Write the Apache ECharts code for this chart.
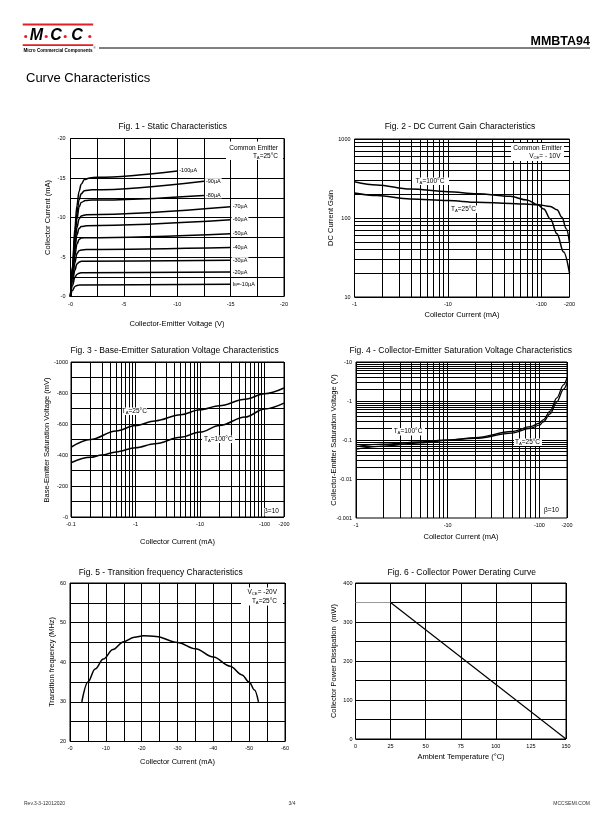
<!DOCTYPE html>
<html><head><meta charset="utf-8">
<script src="https://cdn.jsdelivr.net/npm/echarts@6/dist/echarts.min.js"></script>
<style>html,body{margin:0;padding:0;background:#fff}#c{width:612px;height:825px}</style>
</head><body><div id="c"></div>
<script>
// ================= DATA (magnitudes; axis labels carry the minus sign) =================
// Fig.1 Static characteristics: [|VCE| (V), |IC| (mA)]
const fig1CurveLabels = ['-100µA','-90µA','-80µA','-70µA','-60µA','-50µA','-40µA','-30µA','-20µA','IB=-10µA'];
const fig1Ib100 = [[0,0],[0.2,4],[0.4,8.5],[0.6,11.5],[0.8,13.3],[1.0,14.2],[1.3,14.8],[1.8,15.0],[2.5,15.1],[10,15.9]];
const fig1Ib90  = [[0,0],[0.2,3.8],[0.4,7.8],[0.6,10.5],[0.8,12.2],[1.0,13.0],[1.3,13.4],[2.0,13.5],[12.5,14.6]];
const fig1Ib80  = [[0,0],[0.2,3.6],[0.4,7.2],[0.6,9.8],[0.8,11.3],[1.0,11.9],[1.4,12.15],[2.0,12.2],[12.5,12.8]];
const fig1Ib70  = [[0,0],[0.2,3.3],[0.4,6.5],[0.6,8.7],[0.8,9.8],[1.0,10.2],[1.5,10.35],[15,11.35]];
const fig1Ib60  = [[0,0],[0.2,3.0],[0.4,5.8],[0.6,7.8],[0.8,8.6],[1.0,8.85],[1.5,8.95],[15,9.7]];
const fig1Ib50  = [[0,0],[0.2,2.7],[0.4,5.1],[0.6,6.6],[0.8,7.2],[1.0,7.4],[1.5,7.45],[15,7.95]];
const fig1Ib40  = [[0,0],[0.2,2.3],[0.4,4.2],[0.6,5.4],[0.8,5.8],[1.0,5.9],[1.5,5.95],[15,6.2]];
const fig1Ib30  = [[0,0],[0.2,1.9],[0.4,3.3],[0.6,4.1],[0.8,4.35],[1.0,4.45],[15,4.6]];
const fig1Ib20  = [[0,0],[0.2,1.4],[0.4,2.4],[0.6,2.8],[0.8,2.95],[1.0,3.0],[15,3.1]];
const fig1Ib10  = [[0,0],[0.2,0.8],[0.4,1.25],[0.6,1.4],[0.8,1.45],[15,1.55]];

// Fig.2 DC current gain: [|IC| (mA), hFE]
const fig2Ta100 = [[1,288],[1.73,262],[3.95,233],[10,215],[20.5,203],[46.5,188],[70,169],[92,147],[106,130],[125,97],[147,63],[173,37],[200,20]];
const fig2Ta25  = [[1,207],[1.73,192],[3.95,174],[10,166],[20.5,158],[46.5,153],[92,147],[125,140],[147,127],[166,102],[185,73],[200,49]];

// Fig.3 Base-emitter saturation voltage: [|IC| (mA), |VBE(sat)| (mV)]
const fig3Ta25  = [[0.1,450],[0.2,500],[0.5,555],[1,590],[2,620],[5,660],[10,692],[20,718],[50,760],[100,795],[200,832]];
const fig3Ta100 = [[0.1,350],[0.2,385],[0.3,400],[0.5,420],[1,447],[2,473],[5,515],[10,548],[20,590],[50,645],[100,697],[200,735]];

// Fig.4 Collector-emitter saturation voltage: [|IC| (mA), |VCE(sat)| (V)]
const fig4Ta100 = [[1,0.068],[2,0.078],[5,0.09],[10,0.1],[20,0.11],[50,0.15],[80,0.2],[100,0.24],[110,0.29],[131,0.47],[155,0.95],[183,2.0],[200,2.9]];
const fig4Ta25  = [[1,0.058],[2,0.07],[5,0.085],[10,0.098],[20,0.115],[50,0.165],[80,0.22],[100,0.27],[110,0.33],[131,0.55],[155,1.2],[183,2.6],[200,3.9]];

// Fig.5 Transition frequency: [|IC| (mA), fT (MHz)]
const fig5Ft = [[3.3,30],[5,35],[7,38.3],[9.3,40.8],[12,43.2],[15,45.2],[18,46.3],[20.5,46.7],[24,46.5],[30,45],[35,43.4],[40,41.3],[44.7,39],[48,36.8],[50,35],[51.5,33],[52.6,30]];

// Fig.6 Power derating: [TA (°C), PD (mW)]
const fig6Flat  = [[0,350],[25,350]];
const fig6Slope = [[25,350],[150,0]];

// ================= RENDER =================
const FONT = '"Liberation Sans", Arial, sans-serif';
const neg = v => '-' + (+(+v).toPrecision(4));
const pos = v => String(+(+v).toPrecision(4));

function decadeValues(min, max){
  const out=[];
  for(let e=Math.floor(Math.log10(min)+1e-9); Math.pow(10,e)<=max*1.0001; e++){
    for(let m=1;m<=9;m++){
      const v=+(m*Math.pow(10,e)).toPrecision(6);
      if(v>=min*0.9999 && v<=max*1.0001) out.push(v);
    }
  }
  return out;
}

const grids = [
  {left:70.5, top:138.5, width:213.5, height:158},
  {left:354.5, top:139, width:215, height:158},
  {left:71, top:362, width:213, height:155},
  {left:356, top:362, width:211, height:156},
  {left:70, top:583, width:215, height:158.5},
  {left:355.5, top:583, width:210.5, height:156}
].map(g=>Object.assign({show:true, borderColor:'#000', borderWidth:1, containLabel:false}, g));

const lbl = (fmt, margin) => ({fontSize:5.5, color:'#000', fontFamily:FONT, margin:margin||4, formatter:fmt});
const split = {show:true, lineStyle:{color:'#000', width:1}};
function linAxis(gi, min, max, interval, fmt, margin){
  return {type:'value', gridIndex:gi, min, max, interval, axisLine:{show:false}, axisTick:{show:false},
    splitLine:split, axisLabel:lbl(fmt, margin)};
}
function logAxis(gi, min, max, fmt, margin){
  return {type:'log', logBase:10, gridIndex:gi, min, max, axisLine:{show:false}, axisTick:{show:false},
    splitLine:{show:false}, minorSplitLine:{show:false}, axisLabel:lbl(fmt, margin)};
}
const every = (step, f) => v => (Math.abs(v/step - Math.round(v/step))<1e-6 ? f(v) : '');

const xAxis = [
  linAxis(0, 0, 20, 2.5, every(5, neg), 5),
  logAxis(1, 1, 200, neg, 4),
  logAxis(2, 0.1, 200, neg, 4),
  logAxis(3, 1, 200, neg, 4),
  linAxis(4, 0, 60, 5, every(10, neg), 4),
  linAxis(5, 0, 150, 25, pos, 4)
];
const yAxis = [
  linAxis(0, 0, 20, 2.5, every(5, neg), 5),
  logAxis(1, 10, 1000, pos, 4),
  linAxis(2, 0, 1000, 100, every(200, neg), 3),
  logAxis(3, 0.001, 10, neg, 4),
  linAxis(4, 20, 60, 5, every(10, pos), 4),
  linAxis(5, 0, 400, 50, every(100, pos), 3)
];

function gridLines(i, xs, ys){
  return {type:'line', xAxisIndex:i, yAxisIndex:i, data:[], silent:true, z:1,
    markLine:{silent:true, symbol:['none','none'], label:{show:false}, animation:false,
      lineStyle:{color:'#000', width:1, type:'solid'}, emphasis:{disabled:true},
      data:[...xs.map(v=>({xAxis:v})), ...ys.map(v=>({yAxis:v}))]}};
}
function curve(i, data, w, color){
  return {type:'line', xAxisIndex:i, yAxisIndex:i, data, showSymbol:false, symbol:'none', smooth:0.35,
    smoothMonotone:'x', silent:true, z:3, lineStyle:{color:color||'#000', width:w||1.5}};
}

const series = [];
series.push(gridLines(1, decadeValues(1,200), decadeValues(10,1000)));
series.push(gridLines(2, decadeValues(0.1,200), []));
series.push(gridLines(3, decadeValues(1,200), decadeValues(0.001,10)));

const fig1Curves = [fig1Ib100, fig1Ib90, fig1Ib80, fig1Ib70, fig1Ib60, fig1Ib50, fig1Ib40, fig1Ib30, fig1Ib20, fig1Ib10];
fig1Curves.forEach((d,k)=>{
  const s = curve(0, d, 1.5);
  const txt = fig1CurveLabels[k];
  s.endLabel = {show:true, distance:1, fontSize:5.5, fontFamily:FONT, color:'#000', backgroundColor:'#fff', padding:[0,1],
    formatter: () => txt.indexOf('IB')===0 ? '{n|I}{s|B}{n|' + txt.slice(2) + '}' : txt,
    rich:{n:{fontSize:5.5, fontFamily:FONT, color:'#000'}, s:{fontSize:4, fontFamily:FONT, color:'#000', verticalAlign:'bottom', lineHeight:4}}};
  series.push(s);
});
series.push(curve(1, fig2Ta100));
series.push(curve(1, fig2Ta25));
series.push(curve(2, fig3Ta25));
series.push(curve(2, fig3Ta100));
series.push(curve(3, fig4Ta100, 1.3));
series.push(curve(3, fig4Ta25, 1.3));
series.push(curve(4, fig5Ft));
series.push(curve(5, fig6Flat, 1.2, '#999'));
series.push(curve(5, fig6Slope, 1.2));

// ---------- texts & decorations ----------
const G = [];
function T(x,y,text,o){
  o=o||{};
  const st = {text, fill:o.color||'#000', fontSize:o.size||7, fontFamily:FONT,
    fontWeight:o.bold?'bold':'normal', fontStyle:o.italic?'italic':'normal',
    align:o.align||'center', textAlign:o.align||'center', verticalAlign:'middle', textVerticalAlign:'middle'};
  if(o.rich) st.rich=o.rich;
  G.push({type:'text', x, y, rotation:o.rot||0, z:100, silent:true, style:st});
}
function R(x,y,w,h,fill){ G.push({type:'rect', shape:{x,y,width:w,height:h}, style:{fill:fill||'#fff'}, z:95, silent:true}); }
function L(x1,y1,x2,y2,c,w){ G.push({type:'line', shape:{x1,y1,x2,y2}, style:{stroke:c||'#000', lineWidth:w||1}, z:100, silent:true}); }
function C(cx,cy,r,fill){ G.push({type:'circle', shape:{cx,cy,r}, style:{fill}, z:100, silent:true}); }
const sub = sz => ({n:{fontSize:sz, fontFamily:FONT, color:'#000'}, s:{fontSize:sz*0.65, fontFamily:FONT, color:'#000', verticalAlign:'bottom', lineHeight:sz*0.65}});

// header
const RED = '#e21f26';
R(22.7, 23.5, 70.5, 2, RED);
R(22.7, 44.2, 70.5, 1.8, RED);
[25.7, 46.2, 65.2, 89.8].forEach(x=>C(x, 36.5, 1.6, RED));
T(36.5, 35.8, 'M', {size:16, bold:true, italic:true});
T(56, 35.8, 'C', {size:16, bold:true, italic:true});
T(77, 35.8, 'C', {size:16, bold:true, italic:true});
T(58, 50.7, 'Micro Commercial Components', {size:4.6, bold:true});
T(94.5, 48.2, '®', {size:3});
L(99, 48, 590, 48, '#000', 1);
T(590, 41.7, 'MMBTA94', {size:12.5, bold:true, align:'right'});
T(26, 78.3, 'Curve Characteristics', {size:13, align:'left'});
// footer
T(24, 803.5, 'Rev.3-3-12012020', {size:5, align:'left', color:'#333'});
T(292, 803.5, '3/4', {size:5, color:'#333'});
T(590, 803.5, 'MCCSEMI.COM', {size:5, align:'right', color:'#333'});

// figure titles
T(172.7, 126.3, 'Fig. 1 - Static Characteristics', {size:8.5});
T(460, 126.3, 'Fig. 2 - DC Current Gain Characteristics', {size:8.5});
T(174.7, 351, 'Fig. 3 - Base-Emitter Saturation Voltage Characteristics', {size:8.5});
T(460.7, 351, 'Fig. 4 - Collector-Emitter Saturation Voltage Characteristics', {size:8.5});
T(160.7, 572.3, 'Fig. 5 - Transition frequency Characteristics', {size:8.5});
T(461.7, 572.3, 'Fig. 6 - Collector Power Derating Curve', {size:8.5});

// axis titles
const R90 = Math.PI/2;
T(177, 324, 'Collector-Emitter Voltage (V)', {size:7.5});
T(48.3, 217.5, 'Collector Current (mA)', {size:7.5, rot:R90});
T(462, 315.3, 'Collector Current (mA)', {size:7.5});
T(330.7, 218, 'DC Current Gain', {size:7.5, rot:R90});
T(177.5, 541.7, 'Collector Current (mA)', {size:7.5});
T(47.3, 440, 'Base-Emitter Saturation Voltage (mV)', {size:7.5, rot:R90});
T(461, 536.7, 'Collector Current (mA)', {size:7.5});
T(334, 440, 'Collector-Emitter Saturation Voltage (V)', {size:7.5, rot:R90});
T(177.5, 761.7, 'Collector Current (mA)', {size:7.5});
T(51.7, 662, 'Transition frequency (MHz)', {size:7.5, rot:R90});
T(461, 756.7, 'Ambient Temperature (°C)', {size:7.5});
T(334, 661, 'Collector Power Dissipation  (mW)', {size:7.5, rot:R90});

// annotations
R(226, 141.5, 57, 18.5);
T(278, 148.5, 'Common Emitter', {size:6.5, align:'right'});
T(278, 156.3, '{n|T}{s|A}{n|=25°C}', {size:6.5, align:'right', rich:sub(6.5)});

R(511, 143, 53, 18);
T(562, 148.5, 'Common Emitter', {size:6.5, align:'right'});
T(560.5, 156.3, '{n|V}{s|CE}{n|= - 10V}', {size:6.5, align:'right', rich:sub(6.5)});
R(412, 177.5, 37, 7.5);
T(430, 181.2, '{n|T}{s|A}{n|=100°C}', {size:6.5, rich:sub(6.5)});
R(449, 205.5, 30, 7.5);
T(463.5, 209.3, '{n|T}{s|A}{n|=25°C}', {size:6.5, rich:sub(6.5)});

R(122, 407.5, 25, 7.5);
T(134.3, 411, '{n|T}{s|A}{n|=25°C}', {size:6.5, rich:sub(6.5)});
R(202, 435.5, 33, 7.5);
T(218.3, 439.3, '{n|T}{s|A}{n|=100°C}', {size:6.5, rich:sub(6.5)});
R(263, 508, 17, 7.5);
T(271.5, 511.7, 'β=10', {size:6.5});

R(392, 428, 33, 7.5);
T(408, 431.7, '{n|T}{s|A}{n|=100°C}', {size:6.5, rich:sub(6.5)});
R(514, 438.5, 28, 7.5);
T(527.5, 442.3, '{n|T}{s|A}{n|=25°C}', {size:6.5, rich:sub(6.5)});
R(543, 506.5, 17, 7.5);
T(551.5, 510.2, 'β=10', {size:6.5});

R(241, 587.5, 42, 18);
T(277, 592.3, '{n|V}{s|CE}{n|= -20V}', {size:6.5, align:'right', rich:sub(6.5)});
T(277, 601.7, '{n|T}{s|A}{n|=25°C}', {size:6.5, align:'right', rich:sub(6.5)});

const chart = echarts.init(document.getElementById('c'), null, {renderer:'canvas'});
chart.setOption({
  animation:false, backgroundColor:'#fff',
  textStyle:{fontFamily:FONT},
  grid:grids, xAxis, yAxis, series, graphic:{elements:G}
});
</script></body></html>
